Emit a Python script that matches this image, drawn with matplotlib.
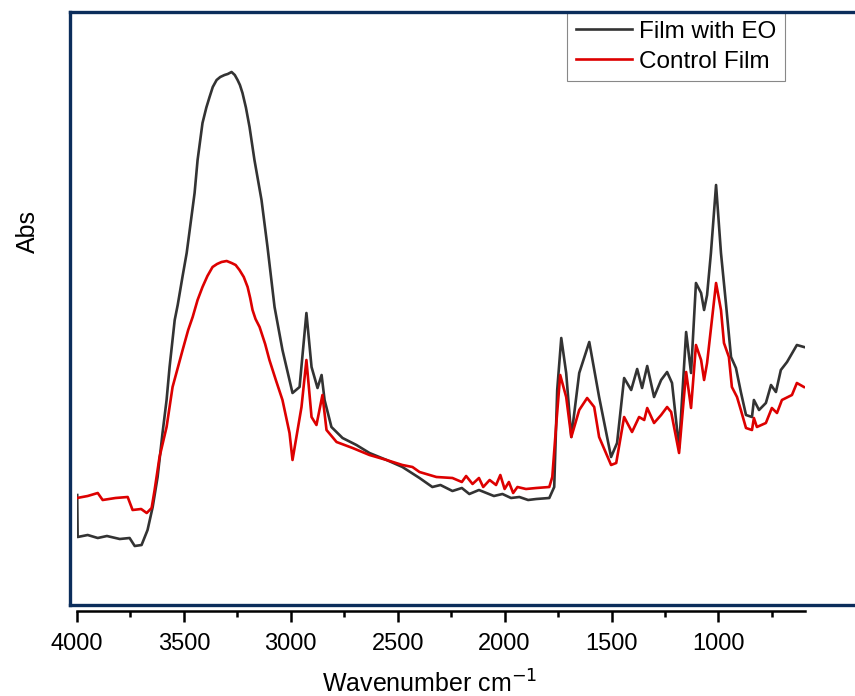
import matplotlib.pyplot as plt
from matplotlib.lines import Line2D
from matplotlib.ticker import MultipleLocator

plt.rcParams['font.family'] = ['Liberation Sans', 'DejaVu Sans']

# FTIR spectra (wavenumber in cm-1, absorbance in arbitrary units)
wn_eo = [3999, 3997, 3950, 3903, 3860, 3800, 3754, 3730, 3698, 3670, 3646, 3623,
         3600, 3581, 3567, 3543, 3529, 3506, 3487, 3450, 3436, 3413, 3395, 3380,
         3365, 3347, 3330, 3310, 3295, 3277, 3262, 3249, 3238, 3226, 3210, 3193,
         3170, 3137, 3109, 3076, 3039, 2992, 2959,
         2927, 2903, 2875, 2856, 2842, 2810, 2758, 2693, 2632, 2552, 2478, 2398,
         2338, 2300, 2244, 2200, 2165, 2120, 2085, 2050, 2010, 1970, 1931, 1890,
         1852, 1791, 1768, 1754, 1735, 1712, 1688, 1651, 1604, 1558, 1502, 1474,
         1441, 1408, 1380, 1357, 1333, 1301, 1268, 1240, 1217, 1184, 1151, 1128,
         1105, 1081, 1067, 1053, 1035, 1011, 988, 965, 941, 918, 895, 871, 843,
         834, 810, 778, 754, 731, 708, 679, 633, 600]
abs_eo = [0.210, 0.126, 0.130, 0.124, 0.128, 0.122, 0.124, 0.108, 0.110, 0.140, 0.186, 0.246,
          0.334, 0.400, 0.466, 0.560, 0.590, 0.648, 0.694, 0.814, 0.880, 0.954, 0.985, 1.006,
          1.026, 1.040, 1.046, 1.050, 1.052, 1.056, 1.050, 1.040, 1.030, 1.014, 0.985, 0.946,
          0.880, 0.800, 0.706, 0.586, 0.500, 0.414, 0.426,
          0.574, 0.466, 0.424, 0.450, 0.400, 0.346, 0.324, 0.310, 0.294, 0.280, 0.266, 0.244,
          0.226, 0.230, 0.218, 0.224, 0.212, 0.220, 0.214, 0.208, 0.212, 0.204, 0.206, 0.200,
          0.202, 0.204, 0.226, 0.420, 0.524, 0.454, 0.326, 0.454, 0.516, 0.406, 0.286, 0.314,
          0.444, 0.420, 0.462, 0.424, 0.468, 0.406, 0.440, 0.456, 0.434, 0.304, 0.536, 0.454,
          0.634, 0.614, 0.580, 0.610, 0.694, 0.830, 0.694, 0.594, 0.486, 0.464, 0.416, 0.370, 0.366,
          0.400, 0.380, 0.394, 0.430, 0.416, 0.460, 0.476, 0.510, 0.506]

wn_ctrl = [4000, 3950, 3903, 3880, 3820, 3763, 3740, 3700, 3674, 3651, 3637, 3614,
           3581, 3553, 3506, 3480, 3459, 3436, 3413, 3390, 3366, 3345, 3324, 3300, 3277,
           3258, 3240, 3220, 3202, 3190, 3179, 3165,
           3146, 3120, 3100, 3070, 3039, 3006, 2992, 2950, 2927, 2903, 2880, 2852, 2833, 2786,
           2711, 2632, 2552, 2478, 2431, 2398, 2319, 2244, 2200, 2180, 2150, 2120,
           2100, 2070, 2040, 2020, 2000, 1980, 1960, 1940, 1900, 1852, 1791, 1777,
           1758, 1740, 1712, 1688, 1651, 1614, 1581, 1558, 1502, 1478, 1441, 1404,
           1371, 1347, 1333, 1301, 1268, 1240, 1221, 1184, 1151, 1128, 1105, 1081,
           1067, 1053, 1011, 988, 974, 951, 937, 913, 895, 871, 843, 834, 820, 778,
           750, 726, 703, 656, 633, 600]
abs_ctrl = [0.204, 0.208, 0.214, 0.200, 0.204, 0.206, 0.180, 0.182, 0.174, 0.184, 0.220, 0.286,
            0.346, 0.426, 0.500, 0.540, 0.566, 0.600, 0.626, 0.648, 0.666, 0.672, 0.676, 0.678, 0.674,
            0.670, 0.660, 0.646, 0.626, 0.604, 0.580, 0.562,
            0.546, 0.512, 0.480, 0.440, 0.400, 0.334, 0.280, 0.386, 0.480, 0.366, 0.350, 0.410, 0.340, 0.316,
            0.304, 0.290, 0.280, 0.270, 0.266, 0.256, 0.246, 0.244, 0.236, 0.248, 0.232, 0.244,
            0.226, 0.240, 0.230, 0.250, 0.222, 0.236, 0.214, 0.226, 0.222, 0.224, 0.226, 0.246,
            0.354, 0.450, 0.406, 0.326, 0.380, 0.404, 0.386, 0.326, 0.270, 0.274, 0.366, 0.336,
            0.366, 0.360, 0.384, 0.354, 0.370, 0.386, 0.376, 0.294, 0.456, 0.384, 0.510, 0.480,
            0.440, 0.474, 0.634, 0.580, 0.514, 0.486, 0.426, 0.406, 0.380, 0.344, 0.340, 0.364, 0.346, 0.354,
            0.384, 0.374, 0.400, 0.410, 0.434, 0.426]

W, H = 855, 696
fig = plt.figure(figsize=(W / 100, H / 100), dpi=100)
ax = fig.add_axes([77 / W, 1 - 611 / H, (805 - 77) / W, (611 - 12) / H])

ax.plot(wn_eo, abs_eo, color='#333333', lw=1.9, label='Film with EO')
ax.plot(wn_ctrl, abs_ctrl, color='#dd0000', lw=1.9, label='Control Film')

ax.set_xlim(4000, 595)
ax.set_ylim(-0.022, 1.176)

for s in ['left', 'top', 'right']:
    ax.spines[s].set_visible(False)
ax.spines['bottom'].set_linewidth(1.8)
ax.set_yticks([])
ax.xaxis.set_major_locator(MultipleLocator(500))
ax.xaxis.set_minor_locator(MultipleLocator(250))
ax.tick_params(axis='x', which='major', length=8, width=1.8, labelsize=17, pad=8)
ax.tick_params(axis='x', which='minor', length=4.5, width=1.8)

fig.text(430 / W, 1 - 684 / H, 'Wavenumber cm$^{-1}$', ha='center', va='center', fontsize=18)
fig.text(28 / W, 1 - 232 / H, 'Abs', ha='center', va='center', rotation=90, fontsize=18)

# navy frame around the plot (right side runs off the picture)
navy = '#0b2d5b'
fx0, fy0, fy1 = 70 / W, 1 - 605 / H, 1 - 12 / H
fig.add_artist(Line2D([fx0, fx0], [fy0, fy1], color=navy, lw=2.4, solid_capstyle='projecting'))
fig.add_artist(Line2D([fx0, 1.01], [fy1, fy1], color=navy, lw=2.4, solid_capstyle='projecting'))
fig.add_artist(Line2D([fx0, 1.01], [fy0, fy0], color=navy, lw=2.4, solid_capstyle='projecting'))

leg = ax.legend(loc='upper left', bbox_to_anchor=(567 / W, 1 - 12 / H), bbox_transform=fig.transFigure,
                borderaxespad=0, fontsize=17.5, handlelength=2.3, handletextpad=0.3,
                labelspacing=0.32, borderpad=0.36, fancybox=False, framealpha=1)
leg.get_frame().set_edgecolor('#888888')
leg.get_frame().set_linewidth(0.8)

fig.savefig('out.png', dpi=100)
